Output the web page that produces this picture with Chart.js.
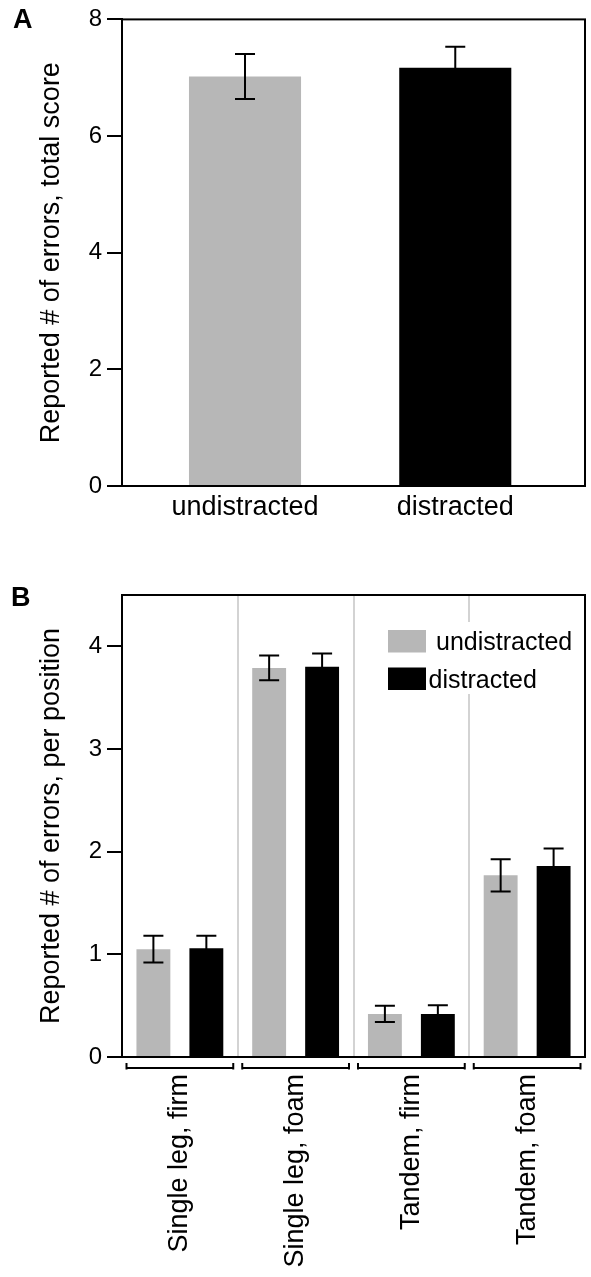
<!DOCTYPE html>
<html>
<head>
<meta charset="utf-8">
<script src="https://cdn.jsdelivr.net/npm/chart.js@4.4.0/dist/chart.umd.min.js"></script>
<style>
  html, body { margin: 0; padding: 0; background: #fff; }
  body { width: 591px; height: 1277px; position: relative; overflow: hidden; font-family: "Liberation Sans", Arial, sans-serif; }
  canvas { position: absolute; left: 0; }
  .letter { position: absolute; font-weight: bold; font-size: 27px; line-height: 27px; }
</style>
</head>
<body>
<canvas id="chartA" width="591" height="560" style="top:0"></canvas>
<canvas id="chartB" width="591" height="717" style="top:560px"></canvas>
<div class="letter" style="left:13px;top:6px">A</div>
<div class="letter" style="left:11px;top:584px">B</div>
<script>
const GRAY = '#b7b7b7';
const BLACK = '#000000';
const FONT = '"Liberation Sans", Arial, Helvetica, sans-serif';

// panel A - total score
const groupsA = ['undistracted', 'distracted'];
const totalMeans = [7.02, 7.17];
const totalErrors = [0.385, 0.36];
const ticksA = [0, 2, 4, 6, 8];

// panel B - per position
const positions = ['Single leg, firm', 'Single leg, foam', 'Tandem, firm', 'Tandem, foam'];
const undistractedMeans = [1.05, 3.79, 0.42, 1.77];
const undistractedErrors = [0.13, 0.12, 0.08, 0.157];
const distractedMeans = [1.06, 3.80, 0.42, 1.86];
const distractedErrors = [0.12, 0.13, 0.085, 0.17];
const ticksB = [0, 1, 2, 3, 4];

// box around the plot area
const frame = {
  id: 'frame',
  afterDatasetsDraw(chart) {
    const {ctx, chartArea: a} = chart;
    ctx.save();
    ctx.strokeStyle = '#000';
    ctx.lineWidth = 2;
    ctx.strokeRect(a.left, a.top, a.right - a.left, a.bottom - a.top);
    ctx.restore();
  }
};

const errorBars = {
  id: 'errorBars',
  afterDatasetsDraw(chart) {
    const ctx = chart.ctx;
    const y = chart.scales.y;
    ctx.save();
    ctx.strokeStyle = '#000';
    ctx.lineWidth = 2;
    chart.data.datasets.forEach((ds, d) => {
      chart.getDatasetMeta(d).data.forEach((bar, i) => {
        const raw = ds.data[i];
        const v = typeof raw === 'object' ? raw.y : raw;
        const top = y.getPixelForValue(v + ds.errors[i]);
        const bot = y.getPixelForValue(v - ds.errors[i]);
        ctx.beginPath();
        ctx.moveTo(bar.x, top); ctx.lineTo(bar.x, bot);
        ctx.moveTo(bar.x - 10, top); ctx.lineTo(bar.x + 10, top);
        ctx.moveTo(bar.x - 10, bot); ctx.lineTo(bar.x + 10, bot);
        ctx.stroke();
      });
    });
    ctx.restore();
  }
};

// brackets under each position group
const brackets = {
  id: 'brackets',
  afterDraw(chart) {
    const {ctx, chartArea} = chart;
    const x = chart.scales.x;
    const half = (x.getPixelForValue(1) - x.getPixelForValue(0)) / 2;
    const yb = chartArea.bottom + 11;
    ctx.save();
    ctx.strokeStyle = '#000';
    ctx.lineWidth = 2;
    positions.forEach((_, i) => {
      const c = x.getPixelForValue(i);
      const l = c - half + 4.5, r = c + half - 4.5;
      ctx.beginPath();
      ctx.moveTo(l, yb - 5); ctx.lineTo(l, yb + 1.5);
      ctx.moveTo(l, yb); ctx.lineTo(r, yb);
      ctx.moveTo(r, yb - 5); ctx.lineTo(r, yb + 1.5);
      ctx.stroke();
    });
    ctx.restore();
  }
};

// legend inside the plot of panel B
const innerLegend = {
  id: 'innerLegend',
  afterDatasetsDraw(chart) {
    const {ctx, chartArea: a} = chart;
    const bx = a.right - 197;
    const rows = [a.top + 35, a.top + 72.5];
    const gaps = [10, 2.5];
    ctx.save();
    ctx.fillStyle = '#fff';
    ctx.fillRect(bx - 8, a.top + 27, 200, 72);
    ctx.font = '25px ' + FONT;
    ctx.textBaseline = 'alphabetic';
    chart.data.datasets.forEach((ds, i) => {
      ctx.fillStyle = ds.backgroundColor;
      ctx.fillRect(bx, rows[i], 38, 22.5);
      ctx.fillStyle = '#000';
      ctx.fillText(ds.label, bx + 38 + gaps[i], rows[i] + 20);
    });
    ctx.restore();
  }
};

new Chart(document.getElementById('chartA'), {
  type: 'bar',
  data: {
    datasets: [{
      data: groupsA.map((g, i) => ({x: i, y: totalMeans[i]})),
      errors: totalErrors,
      backgroundColor: [GRAY, BLACK],
      borderWidth: 0,
      categoryPercentage: 1,
      barPercentage: 0.533
    }]
  },
  options: {
    responsive: false,
    animation: false,
    layout: {padding: {left: 35, top: 19, right: 6, bottom: 34}},
    plugins: {legend: {display: false}, tooltip: {enabled: false}},
    scales: {
      x: {
        type: 'linear', min: -0.585, max: 1.617, offset: false,
        grid: {display: false, drawTicks: false},
        border: {display: true, color: '#000', width: 2},
        afterBuildTicks: s => { s.ticks = groupsA.map((_, i) => ({value: i})); },
        afterFit: s => { s.height = 40; },
        ticks: {color: '#000', padding: 5, maxRotation: 0, autoSkip: false,
                font: {family: FONT, size: 27}, callback: v => groupsA[v]}
      },
      y: {
        min: 0, max: 8,
        afterBuildTicks: s => { s.ticks = ticksA.map(v => ({value: v})); },
        afterFit: s => { s.width = 87; },
        grid: {drawOnChartArea: false, drawTicks: true, tickLength: 15, color: '#000', lineWidth: 2},
        border: {display: true, color: '#000', width: 2},
        ticks: {color: '#000', padding: 5, font: {family: FONT, size: 24}},
        title: {display: true, text: 'Reported # of errors, total score', color: '#000',
                font: {family: FONT, size: 27}, padding: {top: 0, bottom: 0}}
      }
    }
  },
  plugins: [errorBars, frame]
});

new Chart(document.getElementById('chartB'), {
  type: 'bar',
  data: {
    labels: positions,
    datasets: [
      {label: 'undistracted', data: undistractedMeans, errors: undistractedErrors,
       backgroundColor: GRAY, borderWidth: 0, categoryPercentage: 0.915, barPercentage: 0.64},
      {label: 'distracted', data: distractedMeans, errors: distractedErrors,
       backgroundColor: BLACK, borderWidth: 0, categoryPercentage: 0.915, barPercentage: 0.64}
    ]
  },
  options: {
    responsive: false,
    animation: false,
    layout: {padding: {left: 35, top: 35, right: 6, bottom: 4}},
    plugins: {legend: {display: false}, tooltip: {enabled: false}},
    scales: {
      x: {
        offset: true,
        grid: {display: true, offset: true, drawTicks: false, color: '#d3d3d3', lineWidth: 2},
        border: {display: true, color: '#000', width: 2},
        afterFit: s => { s.height = 216; },
        ticks: {color: '#000', padding: 17, minRotation: 90, maxRotation: 90, autoSkip: false,
                font: {family: FONT, size: 27}}
      },
      y: {
        min: 0, max: 4.5,
        afterBuildTicks: s => { s.ticks = ticksB.map(v => ({value: v})); },
        afterFit: s => { s.width = 87; },
        grid: {drawOnChartArea: false, drawTicks: true, tickLength: 15, color: '#000', lineWidth: 2},
        border: {display: true, color: '#000', width: 2},
        ticks: {color: '#000', padding: 5, font: {family: FONT, size: 24}},
        title: {display: true, text: 'Reported # of errors, per position', color: '#000',
                font: {family: FONT, size: 27}, padding: {top: 0, bottom: 0}}
      }
    }
  },
  plugins: [innerLegend, errorBars, frame, brackets]
});
</script>
</body>
</html>
